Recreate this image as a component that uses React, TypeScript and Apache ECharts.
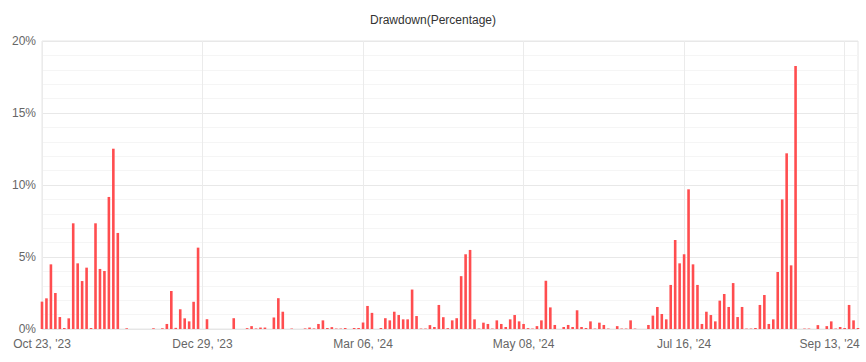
import React, { useEffect, useRef } from "react";
import * as echarts from "echarts";

// Drawdown (%) per observation, left to right
const drawdown: number[] = [
  1.9, 2.13, 4.49, 2.5, 0.83, 0.07, 0.74, 7.34, 4.56, 3.33,
  4.26, 0.07, 7.34, 4.17, 4.03, 9.17, 12.52, 6.67, 0, 0.05,
  0, 0, 0, 0, 0, 0.05, 0, 0.05, 0.35, 2.64,
  0.08, 1.37, 0.74, 0.53, 1.89, 5.65, 0, 0.68, 0, 0,
  0, 0, 0, 0.75, 0, 0, 0.06, 0.2, 0.04, 0.1,
  0.1, 0, 0.8, 2.14, 1.2, 0, 0.03, 0, 0, 0.04,
  0.1, 0.04, 0.35, 0.6, 0.07, 0.13, 0.03, 0.03, 0.07, 0,
  0.07, 0.07, 0.45, 1.6, 1.12, 0, 0.07, 0.75, 0.6, 1.2,
  0.97, 0.67, 0.67, 2.74, 0.9, 0.03, 0.03, 0.27, 0.14, 1.67,
  0.82, 0.06, 0.6, 0.75, 3.67, 5.19, 5.49, 0.67, 0.03, 0.44,
  0.35, 0.03, 0.6, 0.35, 0.14, 0.67, 0.97, 0.53, 0.35, 0.06,
  0.03, 0.2, 0.6, 3.35, 1.5, 0.28, 0, 0.14, 0.28, 0.14,
  1.3, 0.14, 0.07, 0.53, 0.03, 0.44, 0.28, 0.03, 0, 0.2,
  0.03, 0.03, 0.6, 0.03, 0, 0, 0.28, 0.93, 1.53, 1.04,
  0.67, 3.06, 6.18, 4.56, 5.19, 9.7, 4.49, 3.06, 0.35, 1.2,
  0.97, 0.53, 1.97, 2.43, 1.53, 3.19, 0.83, 1.53, 0.03, 0.03,
  0.07, 1.67, 2.36, 0.35, 0.67, 3.96, 9.0, 12.2, 4.42, 18.26,
  0, 0.03, 0.03, 0, 0.27, 0, 0.2, 0.53, 0.03, 0.14,
  0.07, 1.67, 0.6, 0.07,
];

// Category index of each observation
const categories: string[] = drawdown.map((_, i) => String(i));

// Date labels shown every 36 observations
const tickLabels: string[] = [
  "Oct 23, '23",
  "Dec 29, '23",
  "Mar 06, '24",
  "May 08, '24",
  "Jul 16, '24",
  "Sep 13, '24",
];
const tickEvery = 36;

const yTicks = [0, 5, 10, 15, 20];

const FONT = "'Liberation Sans', Arial, sans-serif";

export default function App() {
  const ref = useRef<HTMLDivElement>(null);

  useEffect(() => {
    if (!ref.current) return;
    const chart = echarts.init(ref.current, undefined, { renderer: "svg" });
    const option: any = {
      animation: false,
      backgroundColor: "#ffffff",
      title: {
        text: "Drawdown(Percentage)",
        left: "center",
        top: 9,
        textStyle: {
          fontSize: 12,
          fontWeight: "normal",
          color: "#333333",
          fontFamily: FONT,
        },
      },
      grid: {
        left: 42,
        right: 8,
        top: 41,
        bottom: 33,
        show: true,
        borderColor: "#e6e6e6",
        borderWidth: 1,
        backgroundColor: "transparent",
      },
      xAxis: {
        type: "category",
        data: categories,
        boundaryGap: false,
        axisLine: { show: true, lineStyle: { color: "#e6e6e6" } },
        axisTick: { show: false },
        axisLabel: {
          interval: tickEvery - 1,
          margin: 9,
          color: "#666666",
          fontSize: 12,
          fontFamily: FONT,
          formatter: (_v: string, idx: number) => {
            if (idx % tickEvery !== 0) return "";
            const k = idx / tickEvery;
            const t = tickLabels[k] ?? "";
            if (k === tickLabels.length - 1) return "{last|" + t + "}";
            return t;
          },
          rich: {
            last: {
              padding: [0, 30, 0, 0],
              color: "#666666",
              fontSize: 12,
              fontFamily: FONT,
            },
          },
        },
        splitLine: {
          show: true,
          interval: tickEvery - 1,
          lineStyle: { color: "#ebebeb", width: 1 },
        },
      },
      yAxis: {
        type: "value",
        min: yTicks[0],
        max: yTicks[yTicks.length - 1],
        interval: 5,
        axisLine: { show: false },
        axisTick: { show: false },
        axisLabel: {
          formatter: "{value}%",
          color: "#666666",
          fontSize: 12,
          margin: 6,
          fontFamily: FONT,
        },
        splitLine: { show: true, lineStyle: { color: "#e8e8e8", width: 1 } },
        minorTick: { show: false, splitNumber: 5 },
        minorSplitLine: { show: true, lineStyle: { color: "#f5f5f5", width: 1 } },
      },
      series: [
        {
          type: "bar",
          data: drawdown,
          barWidth: 2.6,
          itemStyle: { color: "#ff4d4f" },
        },
      ],
    };
    chart.setOption(option);
    return () => chart.dispose();
  }, []);

  return (
    <div
      ref={ref}
      style={{ position: "fixed", left: 0, top: 0, width: 866, height: 362 }}
    />
  );
}
